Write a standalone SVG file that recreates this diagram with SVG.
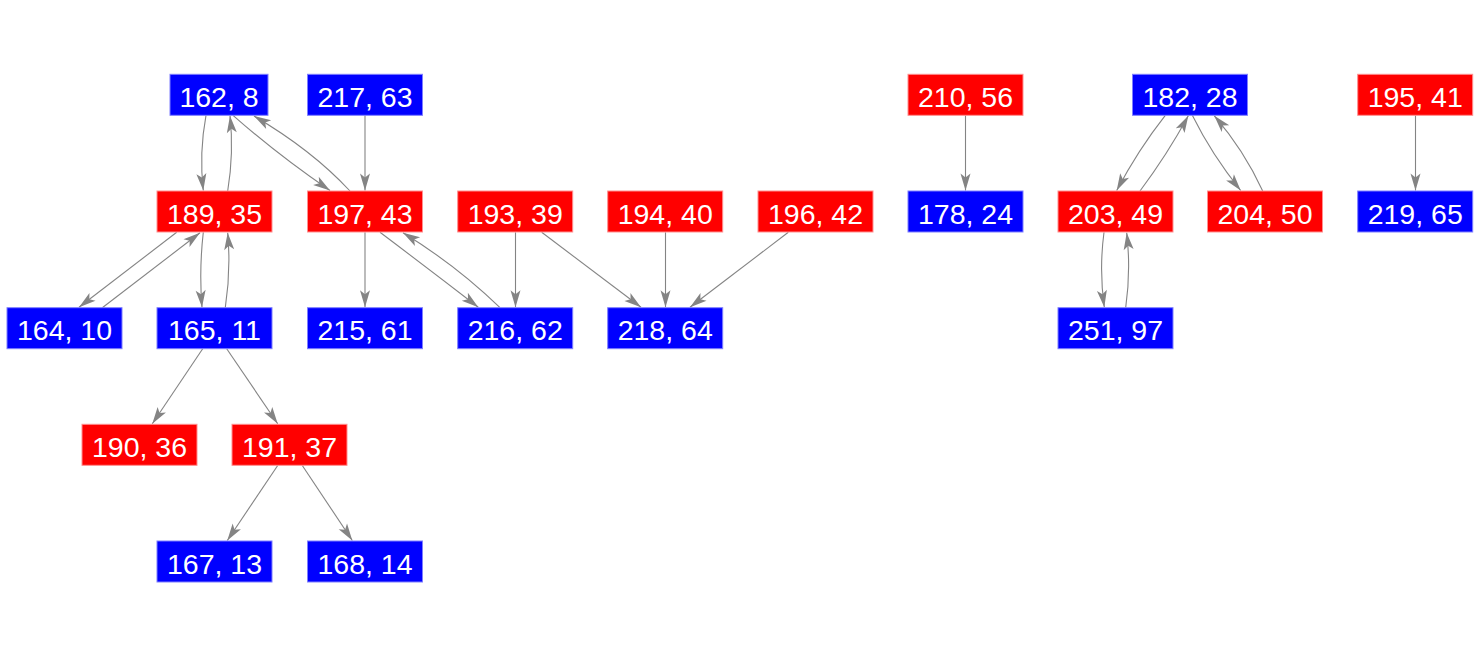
<svg xmlns="http://www.w3.org/2000/svg" width="1479" height="656" viewBox="0 0 1479 656">
<defs>
<style>
.b rect{fill:#0000ff;stroke:#7f7fff;stroke-width:1}
.r rect{fill:#ff0000;stroke:#ff8f8f;stroke-width:1}
text{font-family:"Liberation Sans",Arial,sans-serif;font-size:28.5px;fill:#ffffff;text-anchor:middle}
.e path{fill:none;stroke:#848484;stroke-width:1.1;marker-end:url(#ah)}
</style>
<marker id="ah" markerUnits="userSpaceOnUse" viewBox="-18 -6 19 12" refX="0" refY="0" markerWidth="19" markerHeight="12" orient="auto">
<path d="M0,0 L-17,-5 L-13,0 L-17,5 Z" fill="#848484"/>
</marker>
</defs>
<rect width="1479" height="656" fill="#ffffff"/>
<g class="e" id="connectors">
<path d="M206,115.3 Q199,153 203.3,190.5"/>
<path d="M227.7,191 Q234,153 230,115.8"/>
<path d="M233,115.3 Q278,155 330,190.5"/>
<path d="M350,191 Q312,150 254,116"/>
<path d="M365,115.3 L365,190.5"/>
<path d="M176.7,232.3 L79,307.2"/>
<path d="M102.3,307.7 L200,232.8"/>
<path d="M203.3,232.3 Q199,270 202,307.2"/>
<path d="M225.3,307.7 Q231,270 227.7,232.8"/>
<path d="M202.7,348.7 L152.3,423.8"/>
<path d="M226.7,348.7 L277.7,423.8"/>
<path d="M277.7,465.5 L227.3,540.5"/>
<path d="M302.3,465.5 L352.3,540.5"/>
<path d="M365,232.3 L365,307.2"/>
<path d="M380,232.3 Q430,270 478.3,307.2"/>
<path d="M500,307.7 Q456,265 403,232.8"/>
<path d="M515.5,232.3 L515.5,307.2"/>
<path d="M541.7,232.3 L641,307.2"/>
<path d="M665.5,232.3 L665.5,307.2"/>
<path d="M788.3,232.3 L690,307.2"/>
<path d="M965.5,115.3 L965.5,190.5"/>
<path d="M1165.3,115.3 Q1138,150 1116.7,190.5"/>
<path d="M1140,191 Q1167,155 1188.3,115.8"/>
<path d="M1192.3,115.3 Q1212,155 1240.7,190.5"/>
<path d="M1262.7,191 Q1244,150 1214.3,115.8"/>
<path d="M1104,232.3 Q1099,270 1104.3,307.2"/>
<path d="M1125.7,307.7 Q1131,270 1126.7,232.8"/>
<path d="M1415.5,115.3 L1415.5,190.5"/>
</g>
<g id="n162_8" class="b"><rect x="170" y="74.3" width="98" height="41"/><text x="219" y="106.8">162, 8</text></g>
<g id="n217_63" class="b"><rect x="307.5" y="74.3" width="115" height="41"/><text x="365" y="106.8">217, 63</text></g>
<g id="n210_56" class="r"><rect x="908" y="74.3" width="115" height="41"/><text x="965.5" y="106.8">210, 56</text></g>
<g id="n182_28" class="b"><rect x="1132.5" y="74.3" width="115" height="41"/><text x="1190" y="106.8">182, 28</text></g>
<g id="n195_41" class="r"><rect x="1357.7" y="74.3" width="115" height="41"/><text x="1415.2" y="106.8">195, 41</text></g>
<g id="n189_35" class="r"><rect x="157" y="191" width="115" height="41"/><text x="214.5" y="223.5">189, 35</text></g>
<g id="n197_43" class="r"><rect x="307.5" y="191" width="115" height="41"/><text x="365" y="223.5">197, 43</text></g>
<g id="n193_39" class="r"><rect x="457.7" y="191" width="115" height="41"/><text x="515.2" y="223.5">193, 39</text></g>
<g id="n194_40" class="r"><rect x="607.7" y="191" width="115" height="41"/><text x="665.2" y="223.5">194, 40</text></g>
<g id="n196_42" class="r"><rect x="758" y="191" width="115" height="41"/><text x="815.5" y="223.5">196, 42</text></g>
<g id="n178_24" class="b"><rect x="908" y="191" width="115" height="41"/><text x="965.5" y="223.5">178, 24</text></g>
<g id="n203_49" class="r"><rect x="1058" y="191" width="115" height="41"/><text x="1115.5" y="223.5">203, 49</text></g>
<g id="n204_50" class="r"><rect x="1207.5" y="191" width="115" height="41"/><text x="1265" y="223.5">204, 50</text></g>
<g id="n219_65" class="b"><rect x="1357.7" y="191" width="115" height="41"/><text x="1415.2" y="223.5">219, 65</text></g>
<g id="n164_10" class="b"><rect x="7" y="307.7" width="115" height="41"/><text x="64.5" y="340.2">164, 10</text></g>
<g id="n165_11" class="b"><rect x="157" y="307.7" width="115" height="41"/><text x="214.5" y="340.2">165, 11</text></g>
<g id="n215_61" class="b"><rect x="307.5" y="307.7" width="115" height="41"/><text x="365" y="340.2">215, 61</text></g>
<g id="n216_62" class="b"><rect x="457.7" y="307.7" width="115" height="41"/><text x="515.2" y="340.2">216, 62</text></g>
<g id="n218_64" class="b"><rect x="607.7" y="307.7" width="115" height="41"/><text x="665.2" y="340.2">218, 64</text></g>
<g id="n251_97" class="b"><rect x="1058" y="307.7" width="115" height="41"/><text x="1115.5" y="340.2">251, 97</text></g>
<g id="n190_36" class="r"><rect x="82" y="424.3" width="115" height="41"/><text x="139.5" y="456.8">190, 36</text></g>
<g id="n191_37" class="r"><rect x="232" y="424.3" width="115" height="41"/><text x="289.5" y="456.8">191, 37</text></g>
<g id="n167_13" class="b"><rect x="157" y="541" width="115" height="41"/><text x="214.5" y="573.5">167, 13</text></g>
<g id="n168_14" class="b"><rect x="307.5" y="541" width="115" height="41"/><text x="365" y="573.5">168, 14</text></g>
</svg>
